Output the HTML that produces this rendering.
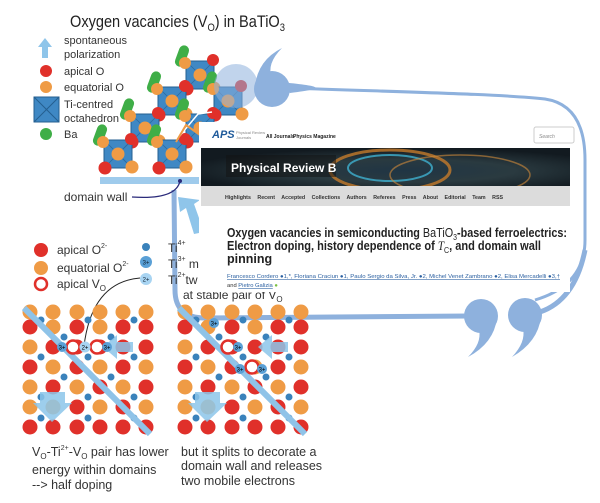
<!DOCTYPE html>
<html><head><meta charset="utf-8"><style>
html,body{margin:0;padding:0;background:#fff;}
svg{display:block;font-family:"Liberation Sans",sans-serif;}
</style></head><body>
<svg width="600" height="503" viewBox="0 0 600 503" xmlns="http://www.w3.org/2000/svg">
<defs>
<g id="oct">
 <rect x="-23" y="-30" width="10" height="22" rx="5" fill="#3fae47" transform="rotate(20 -18 -19)"/>
 <rect x="-14" y="-14" width="28" height="28" fill="#3f88c4" stroke="#245f91" stroke-width="1"/>
 <line x1="-14" y1="-14" x2="14" y2="14" stroke="#2a6aa0" stroke-width="0.8"/>
 <line x1="14" y1="-14" x2="-14" y2="14" stroke="#2a6aa0" stroke-width="0.8"/>
 <circle cx="0" cy="0" r="6.5" fill="#ef9b45"/>
 <circle cx="-15" cy="-12" r="6" fill="#ef9b45"/>
 <circle cx="13" cy="-15" r="6" fill="#e0302a"/>
 <circle cx="-13" cy="14" r="6.5" fill="#e0302a"/>
 <circle cx="14" cy="13" r="6.5" fill="#ef9b45"/>
</g>
<g id="bigarrowL"><path d="M0,12 L14,0 L14,7 L30,7 L30,17 L14,17 L14,24 Z" fill="#8cc6ea" fill-opacity="0.85"/></g>
</defs>

<!-- title -->
<text x="70" y="27" font-size="17" fill="#222" textLength="215" lengthAdjust="spacingAndGlyphs">Oxygen vacancies (V<tspan font-size="11" dy="4">O</tspan><tspan dy="-4">) in BaTiO</tspan><tspan font-size="11" dy="4">3</tspan></text>

<!-- legend top -->
<path d="M45,38 L52,47 L48,47 L48,58 L42,58 L42,47 L38,47 Z" fill="#8fc5ea"/>
<g font-size="11" fill="#333">
<text x="64" y="44">spontaneous</text>
<text x="64" y="58">polarization</text>
<text x="64" y="75">apical O</text>
<text x="64" y="91">equatorial O</text>
<text x="64" y="108">Ti-centred</text>
<text x="64" y="122">octahedron</text>
<text x="64" y="138">Ba</text>
</g>
<circle cx="46" cy="71" r="6" fill="#e0302a"/>
<circle cx="46" cy="87" r="6" fill="#ef9b45"/>
<rect x="34" y="97" width="25" height="25" fill="#3f88c4" stroke="#245f91"/>
<line x1="34" y1="97" x2="59" y2="122" stroke="#245f91"/><line x1="59" y1="97" x2="34" y2="122" stroke="#245f91"/>
<circle cx="46" cy="134" r="6" fill="#3fae47"/>

<!-- crystal -->
<rect x="100" y="177" width="100" height="7" fill="#9fcbec"/>
<use href="#oct" x="200" y="75"/>
<use href="#oct" x="228" y="101"/>
<use href="#oct" x="172" y="101"/>
<use href="#oct" x="200" y="128"/>
<use href="#oct" x="145" y="128"/>
<use href="#oct" x="172" y="154"/>
<use href="#oct" x="118" y="154"/>
<circle cx="236" cy="86" r="22" fill="#8eb1dd" fill-opacity="0.55"/>
<path d="M178,138 L198,114 L212,112" stroke="#fff" stroke-width="1.5" fill="none"/>
<path d="M176,142 L186,125 L200,135" stroke="#ef9b45" stroke-width="2" fill="none"/>

<!-- speech bubble line -->
<path d="M290,88 C400,92 500,94 545,99 Q585,105 585,160 L585,240 Q585,285 535,300" stroke="#8eb1dd" stroke-width="3" fill="none"/>
<path d="M280,82 C320,86 330,88 290,93 Z" fill="#8eb1dd"/>
<path d="M470,316 L205,318 Q175,318 175,290 L174,190" stroke="#8eb1dd" stroke-width="5" fill="none"/>
<!-- top quotes -->
<circle cx="272" cy="89" r="18" fill="#8eb1dd"/>
<path d="M255,86 Q258,60 282,48 Q266,64 272,78 Z" fill="#8eb1dd"/>
<!-- bottom quotes -->
<circle cx="481" cy="316" r="17" fill="#8eb1dd"/>
<path d="M497,318 Q494,343 468,357 Q482,343 479,330 Z" fill="#8eb1dd"/>
<circle cx="525" cy="315" r="17" fill="#8eb1dd"/>
<path d="M541,317 Q538,342 512,357 Q526,342 523,329 Z" fill="#8eb1dd"/>
<path d="M540,312 Q575,300 585,250" stroke="#8eb1dd" stroke-width="5" fill="none"/>

<!-- domain wall label -->
<text x="64" y="201" font-size="12" fill="#333">domain wall</text>
<path d="M132,197 Q176,200 180,181" stroke="#2a2a7a" stroke-width="1.3" fill="none"/>
<circle cx="180" cy="181" r="2" fill="#2a2a7a"/>
<!-- polarization arrow -->
<path d="M178,197 L200,200 L194,204 L204,232 L194,234 L186,208 L180,212 Z" fill="#8fc5ea"/>

<!-- bottom legend -->
<circle cx="41" cy="250" r="7" fill="#e0302a"/>
<circle cx="41" cy="268" r="7" fill="#ef9b45"/>
<circle cx="41" cy="284" r="6" fill="#fff" stroke="#e0302a" stroke-width="2.5"/>
<g font-size="12" fill="#333">
<text x="57" y="254">apical O<tspan font-size="7" dy="-6">2-</tspan></text>
<text x="57" y="272">equatorial O<tspan font-size="7" dy="-6">2-</tspan></text>
<text x="57" y="288">apical V<tspan font-size="8" dy="3">O</tspan></text>
<text x="168" y="252">Ti<tspan font-size="7" dy="-7">4+</tspan></text>
<text x="168" y="268">Ti<tspan font-size="7" dy="-7">3+</tspan><tspan dy="7"> m</tspan></text>
<text x="168" y="284">Ti<tspan font-size="7" dy="-7">2+</tspan><tspan dy="7">tw</tspan></text>
<text x="183" y="299">at stable pair of V<tspan font-size="8" dy="3">O</tspan></text>
</g>
<circle cx="146" cy="247" r="4" fill="#3a82bb"/>
<circle cx="146" cy="262" r="6" fill="#5aa0d6"/><text x="146" y="264.5" font-size="6" text-anchor="middle" fill="#123">3+</text>
<circle cx="146" cy="279" r="6" fill="#a8d4f2"/><text x="146" y="281.5" font-size="6" text-anchor="middle" fill="#123">2+</text>
<path d="M140,278 Q92,282 84,346" stroke="#222" stroke-width="1" fill="none"/>

<!-- lattices -->
<g id="lat">
<g fill="#ef9b45">
 <circle cx="30" cy="312" r="7.5"/><circle cx="53" cy="312" r="7.5"/><circle cx="77" cy="312" r="7.5"/><circle cx="100" cy="312" r="7.5"/><circle cx="123" cy="312" r="7.5"/><circle cx="146" cy="312" r="7.5"/>
 <circle cx="30" cy="347" r="7.5"/><circle cx="30" cy="387" r="7.5"/><circle cx="30" cy="407" r="7.5"/>
 <circle cx="53" cy="367" r="7.5"/><circle cx="100" cy="367" r="7.5"/><circle cx="146" cy="367" r="7.5"/>
 <circle cx="77" cy="387" r="7.5"/><circle cx="123" cy="387" r="7.5"/>
 <circle cx="53" cy="407" r="7.5"/><circle cx="100" cy="407" r="7.5"/><circle cx="146" cy="407" r="7.5"/>
 <circle cx="100" cy="327" r="7.5"/><circle cx="53" cy="327" r="7.5"/>
</g>
<g fill="#e0302a">
 <circle cx="30" cy="327" r="7.5"/><circle cx="77" cy="327" r="7.5"/><circle cx="123" cy="327" r="7.5"/><circle cx="146" cy="327" r="7.5"/>
 <circle cx="53" cy="347" r="7.5"/><circle cx="77" cy="347" r="7.5"/><circle cx="123" cy="347" r="7.5"/><circle cx="146" cy="347" r="7.5"/>
 <circle cx="30" cy="367" r="7.5"/><circle cx="77" cy="367" r="7.5"/><circle cx="123" cy="367" r="7.5"/>
 <circle cx="53" cy="387" r="7.5"/><circle cx="100" cy="387" r="7.5"/><circle cx="146" cy="387" r="7.5"/>
 <circle cx="77" cy="407" r="7.5"/><circle cx="123" cy="407" r="7.5"/>
 <circle cx="30" cy="427" r="7.5"/><circle cx="53" cy="427" r="7.5"/><circle cx="77" cy="427" r="7.5"/><circle cx="100" cy="427" r="7.5"/><circle cx="123" cy="427" r="7.5"/><circle cx="146" cy="427" r="7.5"/>
 <circle cx="100" cy="347" r="7.5"/>
</g>
<g fill="#3a82bb">
 <circle cx="41" cy="320" r="3.5"/><circle cx="88" cy="320" r="3.5"/><circle cx="134" cy="320" r="3.5"/>
 <circle cx="41" cy="357" r="3.5"/><circle cx="88" cy="357" r="3.5"/><circle cx="134" cy="357" r="3.5"/>
 <circle cx="41" cy="397" r="3.5"/><circle cx="88" cy="397" r="3.5"/><circle cx="134" cy="397" r="3.5"/>
 <circle cx="41" cy="418" r="3.5"/><circle cx="88" cy="418" r="3.5"/><circle cx="134" cy="418" r="3.5"/>
 <circle cx="64" cy="377" r="3.5"/><circle cx="111" cy="377" r="3.5"/><circle cx="64" cy="337" r="3.5"/><circle cx="111" cy="337" r="3.5"/>
</g>
<use href="#bigarrowL" x="103" y="335"/>
<path d="M40,392 L65,392 L65,403 L72,403 L52,422 L33,403 L40,403 Z" fill="#8cc6ea" fill-opacity="0.85"/>
</g>
<line x1="24" y1="308" x2="150" y2="434" stroke="#8fc3e8" stroke-width="6"/>
<use href="#lat" x="155" y="0"/>
<line x1="179" y1="308" x2="305" y2="434" stroke="#8fc3e8" stroke-width="6"/>
<!-- vacancies left -->
<circle cx="73" cy="347" r="6.5" fill="#fff" stroke="#e0302a" stroke-width="2.5"/>
<circle cx="97" cy="347" r="6.5" fill="#fff" stroke="#e0302a" stroke-width="2.5"/>
<circle cx="85" cy="347" r="5.5" fill="#a8d4f2"/><text x="85" y="349.5" font-size="6" text-anchor="middle">2+</text>
<circle cx="62" cy="347" r="5" fill="#5aa0d6"/><text x="62" y="349.5" font-size="6" text-anchor="middle">3+</text>
<circle cx="107" cy="347" r="5" fill="#5aa0d6"/><text x="107" y="349.5" font-size="6" text-anchor="middle">3+</text>
<!-- vacancies right -->
<circle cx="228" cy="347" r="6.5" fill="#fff" stroke="#e0302a" stroke-width="2.5"/>
<circle cx="252" cy="367" r="6.5" fill="#fff" stroke="#e0302a" stroke-width="2.5"/>
<circle cx="214" cy="323" r="5" fill="#5aa0d6"/><text x="214" y="325.5" font-size="6" text-anchor="middle">3+</text>
<circle cx="238" cy="347" r="5" fill="#5aa0d6"/><text x="238" y="349.5" font-size="6" text-anchor="middle">3+</text>
<circle cx="240" cy="369" r="5" fill="#5aa0d6"/><text x="240" y="371.5" font-size="6" text-anchor="middle">3+</text>
<circle cx="262" cy="369" r="5" fill="#5aa0d6"/><text x="262" y="371.5" font-size="6" text-anchor="middle">3+</text>

<!-- bottom text -->
<g font-size="12.5" fill="#333">
<text x="32" y="456">V<tspan font-size="8" dy="3">O</tspan><tspan dy="-3">-Ti</tspan><tspan font-size="7" dy="-6">2+</tspan><tspan dy="6">-V</tspan><tspan font-size="8" dy="3">O</tspan><tspan dy="-3"> pair has lower</tspan></text>
<text x="32" y="474">energy within domains</text>
<text x="32" y="489">--&gt; half doping</text>
<text x="181" y="456">but it splits to decorate a</text>
<text x="181" y="470">domain wall and releases</text>
<text x="181" y="485">two mobile electrons</text>
</g>

<!-- paper screenshot -->
<rect x="199" y="122" width="371" height="170" fill="#fff"/>
<text x="212" y="138" font-size="11" font-weight="bold" font-style="italic" fill="#1f5a9a">APS</text>
<text x="236" y="134" font-size="4" fill="#888">Physical Review</text>
<text x="236" y="139" font-size="4" fill="#888">Journals</text>
<text x="266" y="138" font-size="5" font-weight="bold" fill="#222">All Journals</text>
<text x="293" y="138" font-size="5" font-weight="bold" fill="#222">Physics Magazine</text>
<rect x="534" y="127" width="40" height="16" rx="2" fill="#fff" stroke="#ccc"/>
<text x="539" y="138" font-size="5" font-style="italic" fill="#888">Search</text>
<defs><radialGradient id="bg" cx="0.55" cy="0.6" r="0.6"><stop offset="0" stop-color="#203544"/><stop offset="0.5" stop-color="#2a3a40"/><stop offset="1" stop-color="#121a20"/></radialGradient></defs>
<rect x="201" y="148" width="369" height="38" fill="url(#bg)"/>
<ellipse cx="390" cy="170" rx="60" ry="20" fill="none" stroke="#c47a2a" stroke-width="3" opacity="0.8"/>
<ellipse cx="390" cy="168" rx="42" ry="13" fill="none" stroke="#3fb0d0" stroke-width="2" opacity="0.8"/>
<ellipse cx="460" cy="175" rx="70" ry="20" fill="none" stroke="#d08a3a" stroke-width="1.5" opacity="0.6"/>
<rect x="226" y="155" width="110" height="22" fill="#111" opacity="0.5"/>
<text x="231" y="172" font-size="12" font-weight="bold" fill="#fff">Physical Review B</text>
<rect x="201" y="186" width="369" height="20" fill="#dcdcdc"/>
<text x="225" y="199" font-size="5.3" font-weight="bold" fill="#333" word-spacing="5">Highlights  Recent  Accepted  Collections  Authors  Referees  Press  About  Editorial Team  RSS</text>
<g font-weight="bold" fill="#222" font-size="12.5">
<text x="227" y="237" textLength="340" lengthAdjust="spacingAndGlyphs">Oxygen vacancies in semiconducting <tspan font-weight="normal">BaTiO</tspan><tspan font-weight="normal" font-size="8" dy="3">3</tspan><tspan dy="-3">-based ferroelectrics:</tspan></text>
<text x="227" y="250" textLength="314" lengthAdjust="spacingAndGlyphs">Electron doping, history dependence of <tspan font-style="italic" font-family="Liberation Serif" font-weight="normal">T</tspan><tspan font-size="8" font-weight="normal" dy="3">C</tspan><tspan dy="-3">, and domain wall</tspan></text>
<text x="227" y="263">pinning</text>
</g>
<text x="227" y="278" font-size="5.8" fill="#2a5fa0" text-decoration="underline" textLength="333" lengthAdjust="spacingAndGlyphs">Francesco Cordero ●1,*, Floriana Craciun ●1, Paulo Sergio da Silva, Jr. ●2, Michel Venet Zambrano ●2, Elisa Mercadelli ●3,†</text>
<text x="227" y="287" font-size="5.8" fill="#333">and <tspan fill="#2a5fa0" text-decoration="underline">Pietro Galizia</tspan> <tspan fill="#7ac040">●</tspan></text>
</svg>
</body></html>
